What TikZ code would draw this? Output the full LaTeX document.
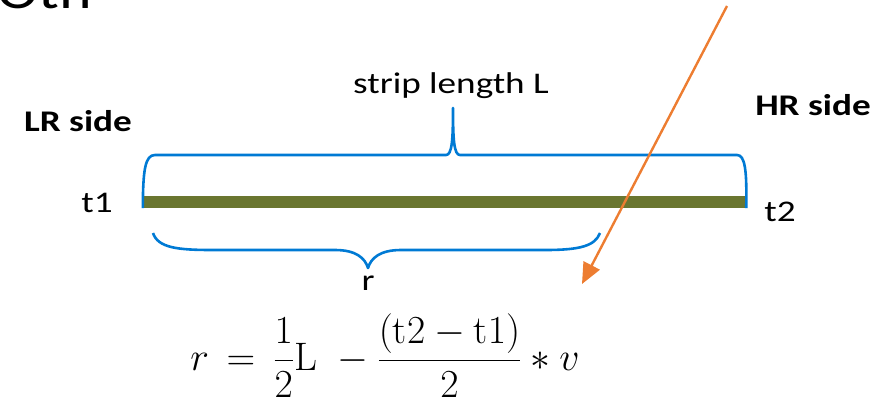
\RequirePackage{fix-cm}
\documentclass[tikz,border=0pt]{standalone}
\usepackage{amsmath}
\usepackage{graphicx}
\usepackage{fontspec}
\setmainfont{Carlito}[FakeStretch=1.24]
\setmathrm{Latin Modern Roman}
\usepackage{xcolor}
\usepackage{tikz}
\usetikzlibrary{positioning, arrows.meta}

\definecolor{stripgreen}{RGB}{106,118,48}
\definecolor{braceblue}{RGB}{0,122,212}
\definecolor{rayorange}{RGB}{237,125,49}

\begin{document}
\begin{tikzpicture}[
    x=1pt, y=-1pt,
    label/.style={inner sep=0pt, font=\fontsize{30}{36}\selectfont},
    sidelabel/.style={inner sep=0pt, font=\fontsize{30}{36}\selectfont\bfseries},
    strip/.style={rectangle, fill=stripgreen, inner sep=0pt, minimum width=603pt, minimum height=12pt},
    brace/.style={draw=braceblue, line width=2.6pt, line join=round},
    ray/.style={draw=rayorange, line width=2.4pt, -{Triangle[length=21pt, width=18pt]}}
]
    \useasboundingbox (0,0) rectangle (891,405);
    \clip (0,0) rectangle (891,405);

    % Title (cut off)
    \node[anchor=base west, inner sep=0pt, font=\fontsize{50}{60}\selectfont] (title) at (-3,8) {Oth};

    % Strip
    \node[strip] (strip) at (444.5,202) {};
    \node[label] (t1) at (97,203) {t1};
    \node[label] (t2) at (780,212) {t2};

    % Sides
    \node[sidelabel] (lr) at (78,121) {LR side};
    \node[sidelabel] (hr) at (813,105) {HR side};

    % Braces
    \draw[brace] (strip.south west) .. controls (143,170) and (145,155) .. (155,155)
        -- (446,155) .. controls (452,155) and (453,140) .. (453,108)
        .. controls (453,140) and (454,155) .. (460,155)
        -- (737,155) .. controls (745,155) and (747,170) .. (strip.south east);
    \node[label] (len) at (451,86) {strip length L};

    \draw[brace] (153,233) .. controls (158,248) and (178,250) .. (213,250)
        -- (335,250) .. controls (356,250) and (365,258) .. (368,268)
        .. controls (371,258) and (380,250) .. (401,250)
        -- (545,250) .. controls (580,250) and (595,246) .. (600,233);
    \node[label] (r) at (368,283) {r};

    % Ray
    \coordinate (rayfrom) at (727,6);
    \coordinate (rayto) at (582,284);
    \draw[ray] (rayfrom) -- (rayto);

    % Formula
    \node[inner sep=0pt, font=\fontsize{28}{34}\selectfont] (formula) at (385,356)
        {\scalebox{1.42}{$\displaystyle r \,=\, \frac{1}{2}\mathrm{L}\ -\frac{(\mathrm{t}2-\mathrm{t}1)}{2}\ast v$}};

\end{tikzpicture}
\end{document}
